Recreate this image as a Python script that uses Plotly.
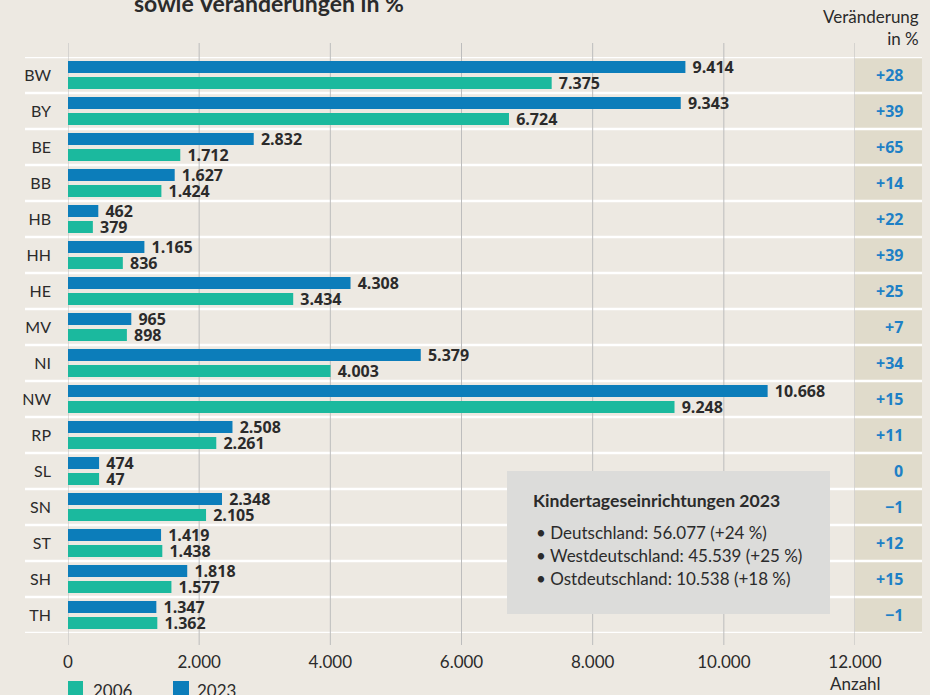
import plotly.graph_objects as go

# ---------------- data ----------------
states = ["BW", "BY", "BE", "BB", "HB", "HH", "HE", "MV", "NI", "NW",
          "RP", "SL", "SN", "ST", "SH", "TH"]
values_2023 = [9414, 9343, 2832, 1627, 462, 1165, 4308, 965, 5379, 10668,
               2508, 474, 2348, 1419, 1818, 1347]
values_2006 = [7375, 6724, 1712, 1424, 379, 836, 3434, 898, 4003, 9248,
               2261, 474, 2105, 1438, 1577, 1362]
labels_2006 = ["7.375", "6.724", "1.712", "1.424", "379", "836", "3.434", "898",
               "4.003", "9.248", "2.261", "47", "2.105", "1.438", "1.577", "1.362"]
change_pct = ["+28", "+39", "+65", "+14", "+22", "+39", "+25", "+7", "+34", "+15",
              "+11", "0", "\u22121", "+12", "+15", "\u22121"]
x_ticks = [0, 2000, 4000, 6000, 8000, 10000, 12000]
series_names = ["2006", "2023"]

title_text = "sowie Veränderungen in %"
box_title = "Kindertageseinrichtungen 2023"
box_lines = ["Deutschland: 56.077 (+24\u202f%)",
             "Westdeutschland: 45.539 (+25\u202f%)",
             "Ostdeutschland: 10.538 (+18\u202f%)"]

# ---------------- styles ----------------
BG = "#EDE9E2"
TAN = "#E0DBCB"
BOXC = "#DCDCDA"
BLUE = "#0C7DBA"
TEAL = "#1BB99E"
PCT_BLUE = "#1E80C6"
DARK = "#2B2B2B"
GRID = "#BDBDBD"
REG = "Lato, Open Sans, sans-serif"
BOLD = "Open Sans, sans-serif"

W, H = 930, 695
ML, MR, MT, MB = 68, 75, 57, 62
PW = W - ML - MR
PH = H - MT - MB


def px_x(p):
    return (p - ML) / PW


def px_y(p):
    return (H - MB - p) / PH


fig = go.Figure()
fig.add_trace(go.Bar(
    y=states, x=values_2023, orientation="h", name=series_names[1],
    marker=dict(color=BLUE, line=dict(width=0)),
    text=[f"{v:,}".replace(",", ".") for v in values_2023],
    texttemplate="\u00a0%{text}", textposition="outside",
    textfont=dict(family=BOLD, size=16, color=DARK, weight="bold"),
    constraintext="none", cliponaxis=False, showlegend=False,
    hoverinfo="skip"))
fig.add_trace(go.Bar(
    y=states, x=values_2006, orientation="h", name=series_names[0],
    marker=dict(color=TEAL, line=dict(width=0)),
    text=labels_2006,
    texttemplate="\u00a0%{text}", textposition="outside",
    textfont=dict(family=BOLD, size=16, color=DARK, weight="bold"),
    constraintext="none", cliponaxis=False, showlegend=False,
    hoverinfo="skip"))

shapes = []
# tan column for percentage change
shapes.append(dict(type="rect", xref="paper", yref="paper",
                   x0=1.0, x1=px_x(922), y0=0, y1=1,
                   fillcolor=TAN, line=dict(width=0), layer="below"))
# white row separators
for k in range(len(states) + 1):
    shapes.append(dict(type="line", xref="paper", yref="y",
                       x0=px_x(25), x1=px_x(922), y0=k - 0.5, y1=k - 0.5,
                       line=dict(color="white", width=2.5), layer="below"))
# vertical gridlines
for t in x_ticks:
    shapes.append(dict(type="line", xref="x", yref="paper",
                       x0=t, x1=t, y0=px_y(645), y1=px_y(43),
                       line=dict(color=GRID, width=1), layer="below"))
# info box
shapes.append(dict(type="rect", xref="paper", yref="paper",
                   x0=px_x(507), x1=px_x(830), y0=px_y(614), y1=px_y(471),
                   fillcolor=BOXC, line=dict(width=0), layer="above"))
# legend squares
shapes.append(dict(type="rect", xref="paper", yref="paper",
                   x0=px_x(68), x1=px_x(83), y0=px_y(700), y1=px_y(681),
                   fillcolor=TEAL, line=dict(width=0)))
shapes.append(dict(type="rect", xref="paper", yref="paper",
                   x0=px_x(173), x1=px_x(189), y0=px_y(700), y1=px_y(681),
                   fillcolor=BLUE, line=dict(width=0)))

ann = []
ann.append(dict(text=f"<b>{title_text}</b>", xref="paper", yref="paper",
                x=px_x(269), y=px_y(19), xanchor="center", yanchor="bottom",
                showarrow=False, font=dict(family=REG, size=23, color=DARK)))
ann.append(dict(text="Veränderung<br>in %", xref="paper", yref="paper",
                x=px_x(921), y=px_y(27), xanchor="right", yanchor="middle",
                align="right", showarrow=False,
                font=dict(family=REG, size=17, color=DARK)))
for s, c in zip(states, change_pct):
    ann.append(dict(text=f"<b>{c}</b>", xref="paper", yref="y",
                    x=px_x(905), y=s, xanchor="right", yanchor="middle",
                    showarrow=False,
                    font=dict(family=BOLD, size=16, color=PCT_BLUE)))
ann.append(dict(text=f"<b>{box_title}</b>", xref="paper", yref="paper",
                x=px_x(531), y=px_y(500), xanchor="left", yanchor="middle",
                showarrow=False, font=dict(family=REG, size=17.6, color=DARK)))
for i, line in enumerate(box_lines):
    ann.append(dict(text="\u2022 " + line, xref="paper", yref="paper",
                    x=px_x(534), y=px_y(532 + 23 * i), xanchor="left",
                    yanchor="middle", showarrow=False,
                    font=dict(family=REG, size=17, color=DARK)))
ann.append(dict(text="Anzahl", xref="paper", yref="paper",
                x=1.0, y=px_y(683), xanchor="center", yanchor="middle",
                showarrow=False, font=dict(family=REG, size=17, color=DARK)))
ann.append(dict(text=series_names[0], xref="paper", yref="paper",
                x=px_x(91), y=px_y(690), xanchor="left", yanchor="middle",
                showarrow=False, font=dict(family=REG, size=17, color=DARK)))
ann.append(dict(text=series_names[1], xref="paper", yref="paper",
                x=px_x(195), y=px_y(690), xanchor="left", yanchor="middle",
                showarrow=False, font=dict(family=REG, size=17, color=DARK)))

fig.update_layout(
    width=W, height=H,
    margin=dict(l=ML, r=MR, t=MT, b=MB, pad=0),
    paper_bgcolor=BG, plot_bgcolor=BG,
    separators=",.",
    barmode="group", bargap=0.11, bargroupgap=0.25,
    shapes=shapes, annotations=ann,
    xaxis=dict(range=[0, 12000], tickvals=x_ticks, tickformat=",d",
               showgrid=False, zeroline=False, showline=False,
               ticks="", ticklabelstandoff=17,
               tickfont=dict(family=REG, size=17, color=DARK),
               fixedrange=True),
    yaxis=dict(type="category", categoryorder="array", categoryarray=states,
               range=[len(states) - 0.5, -0.5],
               showgrid=False, zeroline=False, showline=False,
               ticks="", ticklabelstandoff=16,
               tickfont=dict(family=REG, size=16, color=DARK),
               fixedrange=True),
    showlegend=False,
)

fig.write_html("out.html",
               config={"displayModeBar": False},
               post_script="document.body.style.margin='0';"
                           "document.body.style.overflow='hidden';")
